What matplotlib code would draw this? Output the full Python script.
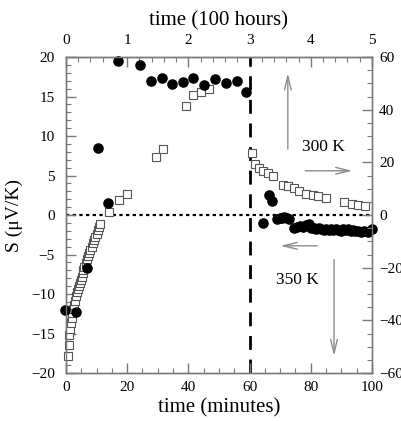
import matplotlib
matplotlib.use("Agg")
import matplotlib.pyplot as plt
import numpy as np

plt.rcParams.update({
    "font.family": ["Liberation Serif", "DejaVu Serif"],
    "font.size": 11,
    "mathtext.fontset": "stix",
})

# filled circles (time in minutes, S in uV/K)
circ_t = [-0.3, 3.3, 6.8, 10.4, 13.7, 17.0, 24.2, 27.7, 31.3, 34.5, 38.3, 41.6,
          45.2, 48.7, 52.3, 55.8, 58.8, 64.5, 66.4, 67.4, 69.0, 69.8, 70.6,
          71.4, 72.2, 73.0, 74.5, 75.5, 76.5, 77.5, 78.5, 79.3, 80.2, 81.0,
          81.8, 82.6, 83.4, 84.2, 85.0, 85.8, 86.6, 87.4, 88.2, 89.0, 89.8,
          90.6, 91.4, 92.2, 93.0, 93.8, 94.6, 95.5, 96.5, 97.5, 98.6, 100.0]
circ_s = [-12.0, -12.3, -6.7, 8.5, 1.5, 19.5, 19.0, 16.9, 17.3, 16.6, 16.8, 17.3,
          16.5, 17.2, 16.7, 17.0, 15.6, -1.0, 2.5, 1.8, -0.5, -0.4, -0.4,
          -0.3, -0.4, -0.5, -1.6, -1.5, -1.4, -1.5, -1.3, -1.2, -1.6, -1.7,
          -1.8, -1.7, -1.8, -1.9, -1.8, -1.9, -1.8, -1.9, -1.8, -1.9, -2.0,
          -1.8, -1.9, -1.8, -2.0, -1.9, -2.0, -2.0, -2.1, -2.0, -2.1, -1.8]

# open squares
sq_t = [0.7, 0.9, 1.1, 1.3, 1.5, 1.8, 2.1, 2.4, 2.7, 3.0, 3.3, 3.6, 3.9, 4.2,
        4.5, 4.8, 5.1, 5.4, 5.7, 6.0, 6.4, 6.8, 7.2, 7.6, 8.0, 8.4, 8.8, 9.2,
        9.6, 10.0, 10.4, 10.8, 11.2, 14.0, 17.3, 20.0, 29.4, 31.6, 39.2, 41.4,
        44.0, 46.8, 60.7, 61.8, 63.2, 64.5, 66.1, 67.5, 71.0, 72.7, 74.5, 76.2,
        78.4, 80.6, 82.5, 85.0, 90.8, 93.4, 95.5, 97.7]
sq_s = [-17.8, -16.5, -15.2, -14.4, -13.7, -13.1, -12.4, -11.9, -11.4, -10.9,
        -10.3, -9.8, -9.4, -9.0, -8.6, -8.2, -7.8, -7.4, -7.0, -6.6, -6.1,
        -5.6, -5.2, -4.8, -4.4, -4.0, -3.6, -3.2, -2.8, -2.4, -1.9, -1.5, -1.1,
        0.4, 1.9, 2.7, 7.4, 8.4, 13.8, 15.2, 15.6, 15.9, 7.8, 6.5, 6.0, 5.6,
        5.3, 4.9, 3.8, 3.7, 3.4, 3.0, 2.7, 2.5, 2.4, 2.2, 1.6, 1.4, 1.3, 1.1]

left_ticks = [-20, -15, -10, -5, 0, 5, 10, 15, 20]
right_ticks = [-60, -40, -20, 0, 20, 40, 60]
bottom_ticks = [0, 20, 40, 60, 80, 100]
top_ticks = [0, 1, 2, 3, 4, 5]

fig = plt.figure(figsize=(4.01, 4.21), dpi=100)
ax = fig.add_axes([0.1646, 0.114, 0.763, 0.7506])

frame_col = "#7a7a7a"
arrow_col = "#8c8c8c"

ax.axhline(0, color="black", linestyle=(0, (1.5, 1.5)), linewidth=1.6, zorder=1)
ax.axvline(60, color="black", linestyle=(0, (5, 3.5)), linewidth=2.0, zorder=1)

ax.plot(sq_t, sq_s, linestyle="none", marker="s", markersize=6.2,
        markerfacecolor="white", markeredgecolor="#555555", markeredgewidth=0.8,
        zorder=3, clip_on=False)
ax.plot(circ_t, circ_s, linestyle="none", marker="o", markersize=6.6,
        color="black", zorder=4, clip_on=False)

# annotations
arr = dict(arrowstyle="->,head_length=0.9,head_width=0.22", color=arrow_col, lw=1.0)
ax.annotate("", xy=(72.5, 18.3), xytext=(72.5, 8.0), arrowprops=arr)
ax.annotate("", xy=(94.5, 5.6), xytext=(77.3, 5.6), arrowprops=arr)
ax.annotate("", xy=(69.2, -3.9), xytext=(83.0, -3.9), arrowprops=arr)
ax.annotate("", xy=(87.6, -18.2), xytext=(87.6, -5.3), arrowprops=arr)
ax.text(84.2, 8.6, "300 K", ha="center", va="center", fontsize=12.5)
ax.text(75.8, -8.2, "350 K", ha="center", va="center", fontsize=12.5)

ax.set_xlim(0, 100)
ax.set_ylim(-20, 20)
ax.set_xticks(bottom_ticks)
ax.set_xticks(np.arange(0, 101, 5), minor=True)
ax.set_yticks(left_ticks)
ax.set_yticks(np.arange(-20, 21, 1), minor=True)
ax.set_xlabel("time (minutes)", fontsize=15, labelpad=3)
ax.set_ylabel("S (μV/K)", fontsize=14, labelpad=6)

ax2 = ax.twinx()
ax2.set_ylim(-60, 60)
ax2.set_yticks(right_ticks)
ax2.set_yticks(np.arange(-60, 61, 5), minor=True)

top = ax.secondary_xaxis("top", functions=(lambda x: x / 20.0, lambda x: x * 20.0))
top.set_xticks(top_ticks)
top.set_xticks(np.arange(0, 5.01, 0.2), minor=True)
top.set_xlabel("time (100 hours)", fontsize=15, labelpad=6)

for a in (ax, ax2, top):
    a.tick_params(which="major", direction="in", length=7, width=1.0,
                  color=frame_col, labelsize=11)
    a.tick_params(which="minor", direction="in", length=3.5, width=0.8,
                  color=frame_col)
ax.tick_params(axis="x", pad=6)
ax.tick_params(axis="y", pad=8)
ax2.tick_params(axis="y", pad=5)
top.tick_params(axis="x", pad=7)
for a in (ax, ax2):
    for sp in a.spines.values():
        sp.set_color(frame_col)
        sp.set_linewidth(1.0)
top.spines["top"].set_color(frame_col)

fig.savefig("out.png", dpi=100)
